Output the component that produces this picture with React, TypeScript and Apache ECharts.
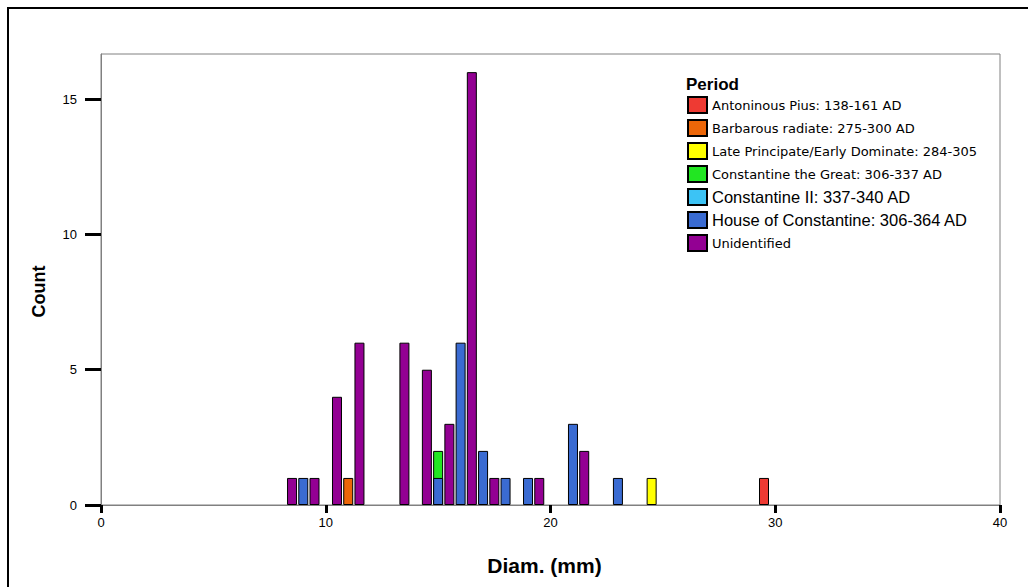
import React, { useEffect, useRef } from "react";
import * as echarts from "echarts";

const periods = [
  "Antoninous Pius: 138-161 AD",
  "Barbarous radiate: 275-300 AD",
  "Late Principate/Early Dominate: 284-305",
  "Constantine the Great: 306-337 AD",
  "Constantine II: 337-340 AD",
  "House of Constantine: 306-364 AD",
  "Unidentified",
];
const colors = ["#ee3a33", "#ec6608", "#ffff00", "#22e622", "#3cc3f5", "#3a6bd2", "#930093"];

// [diameter (mm), count]
const antoninus = [[29.5, 1]];
const barbarous = [[11, 1]];
const latePrincipate = [[24.5, 1]];
const constantineGreat = [[15, 2]];
const constantineII: number[][] = [];
const houseConstantine = [[9, 1], [15, 1], [16, 6], [17, 2], [18, 1], [19, 1], [21, 3], [23, 1]];
const unidentified = [[8.5, 1], [9.5, 1], [10.5, 4], [11.5, 6], [13.5, 6], [14.5, 5], [15.5, 3], [16.5, 16], [17.5, 1], [19.5, 1], [21.5, 2]];

const seriesData = [antoninus, barbarous, latePrincipate, constantineGreat, constantineII, houseConstantine, unidentified];
const bigLegend = ["Constantine II: 337-340 AD", "House of Constantine: 306-364 AD"];

const yTicks = [0, 5, 10, 15];
const xTicks = [0, 10, 20, 30, 40];

const sans = "'Liberation Sans', Arial, sans-serif";

export default function App() {
  const ref = useRef<HTMLDivElement>(null);
  useEffect(() => {
    if (!ref.current) return;
    const chart = echarts.init(ref.current, null, { renderer: "svg" });
    chart.setOption({
      animation: false,
      backgroundColor: "#ffffff",
      title: {
        text: "Period",
        left: 681,
        top: 71,
        textStyle: { fontFamily: sans, fontWeight: "bold", fontSize: 17, color: "#000" },
      },
      legend: {
        orient: "vertical",
        left: 682,
        top: 91,
        itemWidth: 19,
        itemHeight: 16,
        itemGap: 5,
        icon: "rect",
        selectedMode: false,
        data: periods,
        formatter: (name: string) => (bigLegend.includes(name) ? `{b|${name}}` : `{s|${name}}`),
        textStyle: {
          color: "#000",
          rich: {
            s: { fontFamily: "'DejaVu Sans', sans-serif", fontSize: 13, color: "#000" },
            b: { fontFamily: sans, fontSize: 16.5, color: "#000" },
          },
        },
      },
      grid: {
        left: 101,
        right: 28,
        top: 54,
        bottom: 82,
        show: true,
        borderColor: "#808080",
        borderWidth: 1,
        containLabel: false,
      },
      xAxis: {
        type: "value",
        min: 0,
        max: 40,
        interval: 10,
        name: "Diam. (mm)",
        nameLocation: "middle",
        nameGap: 50,
        nameTextStyle: { fontFamily: sans, fontWeight: "bold", fontSize: 21, color: "#000", padding: [0, 12, 0, 0] },
        axisLine: { show: true, lineStyle: { color: "#808080", width: 1 } },
        axisTick: { show: true, length: 8, customValues: xTicks, lineStyle: { color: "#000", width: 3 } },
        axisLabel: { customValues: xTicks, margin: 11, fontFamily: sans, fontSize: 13, color: "#000" },
        splitLine: { show: false },
      },
      yAxis: {
        type: "value",
        min: 0,
        max: 16.67,
        interval: 5,
        name: "Count",
        nameLocation: "middle",
        nameGap: 53,
        nameTextStyle: { fontFamily: sans, fontWeight: "bold", fontSize: 18, color: "#000", padding: [0, 24, 0, 0] },
        axisLine: { show: true, lineStyle: { color: "#808080", width: 1 } },
        axisTick: { show: true, length: 16, customValues: yTicks, lineStyle: { color: "#000", width: 3 } },
        axisLabel: { customValues: yTicks, margin: 24, fontFamily: sans, fontSize: 13, color: "#000" },
        splitLine: { show: false },
      },
      series: periods.map((p, i) => ({
        name: p,
        type: "bar",
        data: seriesData[i],
        barWidth: 10,
        barGap: "-100%",
        itemStyle: { color: colors[i], borderColor: "#000", borderWidth: 1 },
      })),
      graphic: [
        {
          type: "rect",
          shape: { x: 8, y: 8, width: 1100, height: 700 },
          style: { fill: "none", stroke: "#000", lineWidth: 2 },
          silent: true,
        },
      ],
    });
    return () => chart.dispose();
  }, []);
  return (
    <div
      ref={ref}
      style={{ position: "absolute", left: 0, top: 0, width: 1028, height: 587 }}
    />
  );
}
